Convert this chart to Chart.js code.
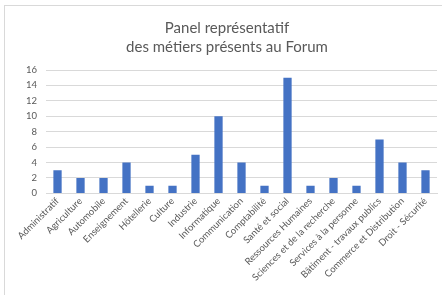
<!DOCTYPE html>
<html>
<head>
<meta charset="utf-8">
<script src="https://cdn.jsdelivr.net/npm/chart.js@4/dist/chart.umd.min.js"></script>
<style>
  html, body { margin: 0; padding: 0; background: #fff; overflow: hidden; }
  #wrap { position: absolute; left: 4px; top: 5px; width: 460px; height: 320px; border: 1px solid #d9d9d9; box-sizing: border-box; }
  #inner { position: absolute; left: 0; top: 0; width: 434px; height: 290px; }
  canvas { display: block; }
</style>
</head>
<body>
<div id="wrap"><div id="inner"><canvas id="c"></canvas></div></div>
<script>
const categories = ["Administratif", "Agriculture", "Automobile", "Enseignement", "Hôtellerie", "Culture", "Industrie", "Informatique", "Communication", "Comptabilité", "Santé et social", "Ressources Humaines", "Sciences et de la recherche", "Services à la personne", "Bâtiment - travaux publics", "Commerce et Distribution", "Droit - Sécurité"];
const values = [3, 2, 2, 4, 1, 1, 5, 10, 4, 1, 15, 1, 2, 1, 7, 4, 3];
const titleLines = ["Panel représentatif", "des métiers présents au Forum"];
const yTicks = [0, 2, 4, 6, 8, 10, 12, 14, 16];

const FONT = "Lato, 'Open Sans', sans-serif";
new Chart(document.getElementById('c'), {
  type: 'bar',
  data: {
    labels: categories,
    datasets: [{ data: values, backgroundColor: '#4472c4', borderWidth: 0, barPercentage: 0.36, categoryPercentage: 1 }]
  },
  options: {
    responsive: true,
    maintainAspectRatio: false,
    animation: false,
    layout: { padding: { left: 12, right: 2, top: 8, bottom: 11 } },
    plugins: {
      legend: { display: false },
      tooltip: { enabled: false },
      title: {
        display: true,
        text: titleLines,
        color: '#595959',
        font: { family: FONT, size: 15, weight: 'normal', lineHeight: 1.3 },
        padding: { top: 4, bottom: 13 }
      }
    },
    scales: {
      x: {
        grid: { display: false, drawTicks: false },
        border: { color: '#d9d9d9' },
        ticks: {
          color: '#595959', font: { family: FONT, size: 9.5 },
          minRotation: 45, maxRotation: 45, autoSkip: false, padding: 2
        }
      },
      y: {
        min: 0, max: 16,
        afterBuildTicks: (axis) => { axis.ticks = yTicks.map(v => ({ value: v })); },
        grid: { color: '#d9d9d9', drawTicks: false },
        border: { display: false },
        ticks: { color: '#595959', font: { family: FONT, size: 9.5 }, padding: 9 }
      }
    }
  }
});
</script>
</body>
</html>
